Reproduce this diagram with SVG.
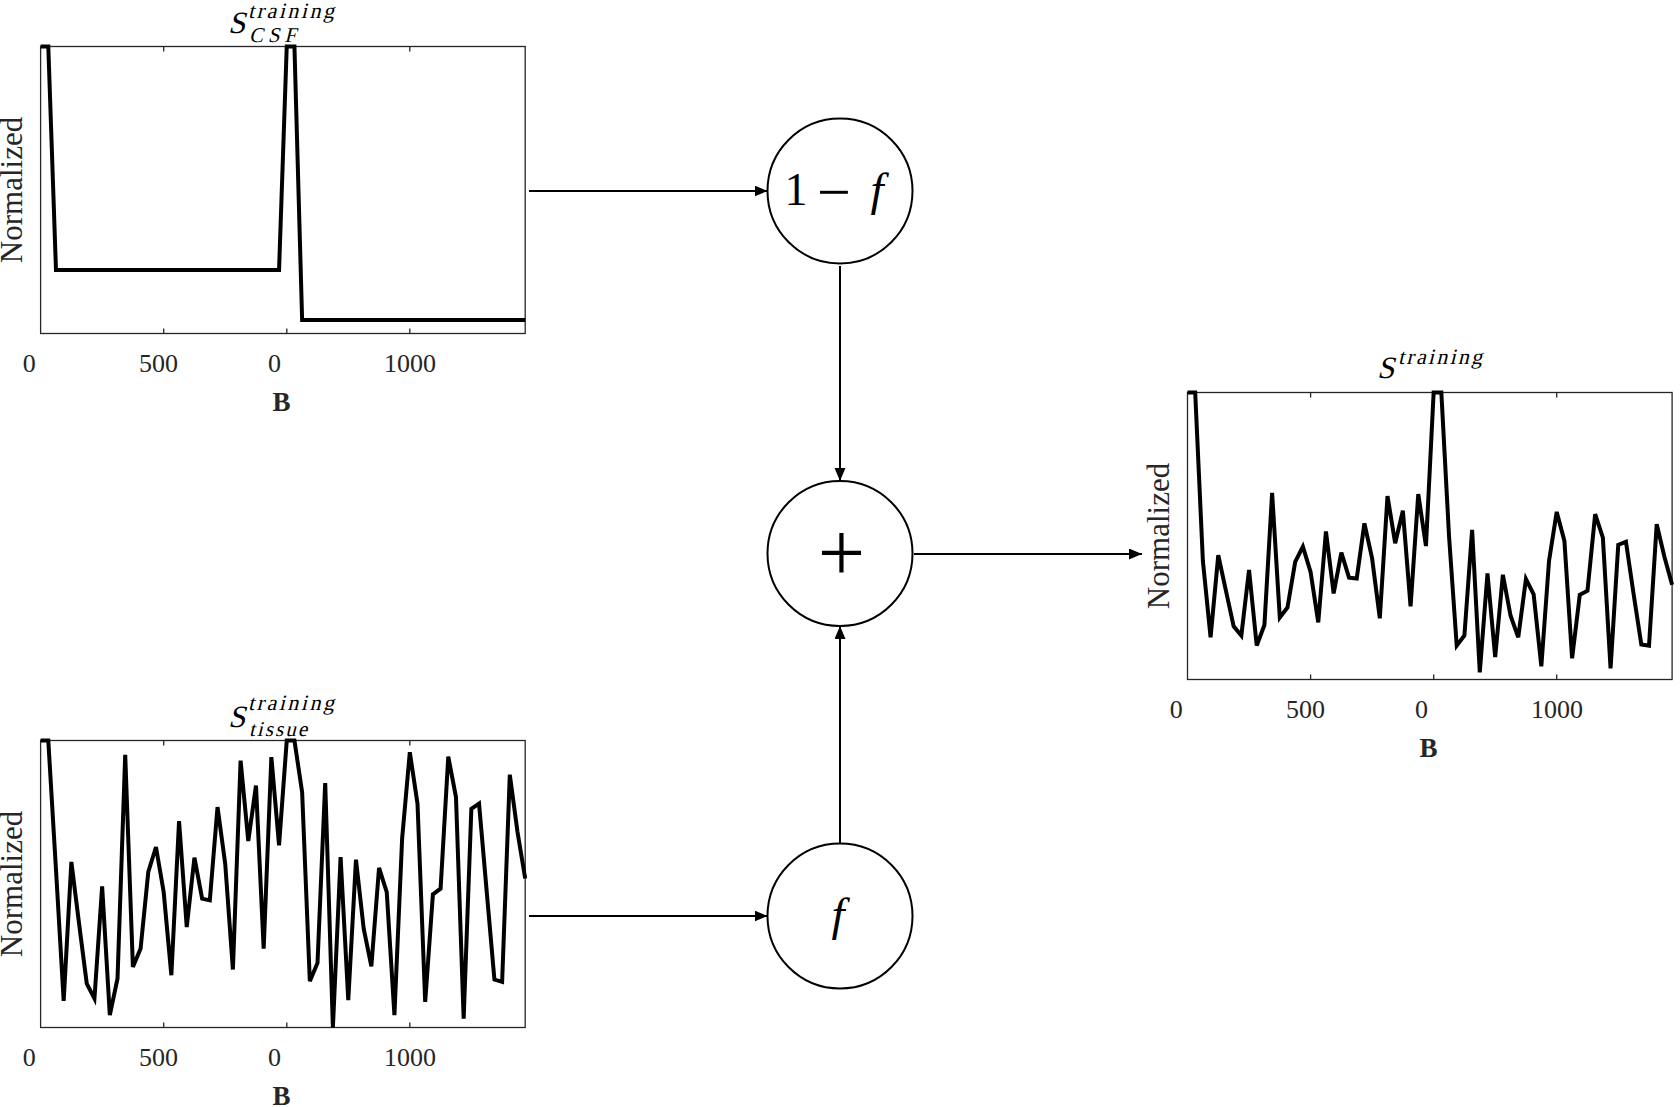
<svg xmlns="http://www.w3.org/2000/svg" width="1680" height="1107" viewBox="0 0 1680 1107">
<style>
.bg{fill:#fff}
.box{fill:none;stroke:#262626;stroke-width:1.3}
.tick{stroke:#262626;stroke-width:1.3}
.data{fill:none;stroke:#000;stroke-width:4;stroke-linejoin:miter;vector-effect:non-scaling-stroke}
.tl{font-family:"Liberation Serif",serif;font-size:26px;fill:#262626;text-anchor:middle}
.xl{font-family:"Liberation Serif",serif;font-size:27px;font-weight:bold;fill:#262626;text-anchor:middle}
.yl{font-family:"Liberation Serif",serif;font-size:31px;fill:#262626;text-anchor:middle}
.ti{font-family:"Liberation Serif",serif;fill:#000}
.node circle{fill:#fff;stroke:#000;stroke-width:2}
.op{font-family:"Liberation Serif",serif;fill:#000;text-anchor:middle}
.conn line{stroke:#000;stroke-width:2}
</style>
<defs>
<marker id="ah" markerUnits="userSpaceOnUse" markerWidth="14" markerHeight="12" refX="13" refY="5.5" orient="auto">
<path d="M0,0 L13,5.5 L0,11 z" fill="#000"/>
</marker>
<g id="ticks">
<line class="tick" x1="123.1" y1="0" x2="123.1" y2="5"/>
<line class="tick" x1="246.2" y1="0" x2="246.2" y2="5"/>
<line class="tick" x1="369.2" y1="0" x2="369.2" y2="5"/>
<line class="tick" x1="123.1" y1="282" x2="123.1" y2="287"/>
<line class="tick" x1="246.2" y1="282" x2="246.2" y2="287"/>
<line class="tick" x1="369.2" y1="282" x2="369.2" y2="287"/>
</g>
<g id="xlabels">
<text class="tl" x="-11.3" y="325.5">0</text>
<text class="tl" x="118" y="325.5">500</text>
<text class="tl" x="234" y="325.5">0</text>
<text class="tl" x="369.4" y="325.5">1000</text>
<text class="xl" x="241" y="364.5">B</text>
<text class="yl" transform="translate(-18.2,143.5) rotate(-90)">Normalized</text>
</g>
</defs>
<rect class="bg" x="0" y="0" width="1680" height="1107"/>

<g id="csf-plot" transform="translate(40.6,46.5)">
<rect class="box" x="0" y="0" width="484.6" height="287"/>
<use href="#ticks"/>
<use href="#xlabels"/>
<polyline class="data" transform="scale(7.692,2.87)" points="0,0 1,0 2,77.9 31,77.9 32,0 33,0 34,95.3 63,95.3"/>
<text class="ti" transform="translate(187.5,-13.5) skewX(-14)" font-size="31">S</text>
<text class="ti" transform="translate(207.4,-29) skewX(-14)" font-size="22" textLength="86" lengthAdjust="spacing">training</text>
<text class="ti" transform="translate(208.4,-4.5) skewX(-14)" font-size="21" textLength="47" lengthAdjust="spacing">CSF</text>
</g>

<g id="tissue-plot" transform="translate(40.6,740.5)">
<rect class="box" x="0" y="0" width="484.6" height="287"/>
<use href="#ticks"/>
<use href="#xlabels"/>
<polyline class="data" transform="scale(7.692,2.87)" points="0,0 1,0 2,45 3,90.7 4,42.3 5,63.8 6,84.7 7,89.9 8,50.8 9,95.7 10,82.9 11,5 12,78.9 13,72.5 14,45.8 15,37.1 16,52.8 17,81.8 18,28.1 19,65 20,40.8 21,55.1 22,55.7 23,23.2 24,42.9 25,79.8 26,7 27,35 28,15.7 29,72.5 30,5.8 31,36.5 32,0 33,0 34,18 35,83.9 36,77.5 37,14.8 38,100 39,40.6 40,90.5 41,41.5 42,65.5 43,78.7 44,44.4 45,52.8 46,95.7 47,34.2 48,4.1 49,22 50,91.1 51,53.6 52,51.6 53,5.6 54,19.7 55,96.9 56,23.8 57,22 58,52.8 59,83.3 60,84.1 61,11.9 62,31.9 63,48.1"/>
<text class="ti" transform="translate(187.5,-13.5) skewX(-14)" font-size="31">S</text>
<text class="ti" transform="translate(207.4,-30.5) skewX(-14)" font-size="22" textLength="86" lengthAdjust="spacing">training</text>
<text class="ti" transform="translate(208.4,-4.5) skewX(-14)" font-size="21" textLength="58" lengthAdjust="spacing">tissue</text>
</g>

<g id="sum-plot" transform="translate(1187.5,392.5)">
<rect class="box" x="0" y="0" width="484.6" height="287"/>
<use href="#ticks"/>
<use href="#xlabels"/>
<polyline class="data" transform="scale(7.692,2.87)" points="0,0 1,0 2,58.7 3,85.3 4,56.7 5,69.1 6,81.5 7,84.7 8,61.8 9,88.2 10,81 11,35 12,78.4 13,74.9 14,59 15,53.7 16,62.5 17,80.1 18,48.4 19,70 20,55.8 21,64.5 22,64.8 23,45.6 24,57.8 25,78.7 26,36.1 27,52.5 28,41.2 29,74.5 30,35.4 31,53.5 32,0 33,0 34,50 35,88.2 36,84.7 37,47.9 38,97.5 39,63 40,92.2 41,63.5 42,77.8 43,85.3 44,65 45,70.3 46,95.4 47,58.7 48,41.6 49,51.7 50,92.6 51,70.5 52,69.1 53,42.4 54,50.6 55,96.1 56,53.1 57,52 58,70.3 59,87.8 60,88.2 61,45.9 62,57.2 63,67"/>
<text class="ti" transform="translate(189.5,-14.5) skewX(-14)" font-size="31">S</text>
<text class="ti" transform="translate(210.5,-28.5) skewX(-14)" font-size="22" textLength="84" lengthAdjust="spacing">training</text>
</g>

<g id="conns" class="conn">
<line x1="529" y1="191" x2="767.5" y2="191" marker-end="url(#ah)"/>
<line x1="840" y1="266" x2="840" y2="481" marker-end="url(#ah)"/>
<line x1="840" y1="843.5" x2="840" y2="626" marker-end="url(#ah)"/>
<line x1="529" y1="916" x2="767.5" y2="916" marker-end="url(#ah)"/>
<line x1="914" y1="554" x2="1142" y2="554" marker-end="url(#ah)"/>
</g>

<g id="node-one-minus-f" class="node">
<circle cx="840" cy="191" r="72.5"/>
<text class="op" x="796" y="205" font-size="46">1</text>
<text class="op" x="834" y="212" font-size="60">−</text>
<text class="op" x="877" y="205" font-size="47" font-style="italic">f</text>
</g>

<g id="node-sum" class="node">
<circle cx="840" cy="553.5" r="72.5"/>
<text class="op" x="841.5" y="581" font-size="84">+</text>
</g>

<g id="node-f" class="node">
<circle cx="840" cy="916" r="72.5"/>
<text class="op" x="838" y="930" font-size="47" font-style="italic">f</text>
</g>
</svg>
